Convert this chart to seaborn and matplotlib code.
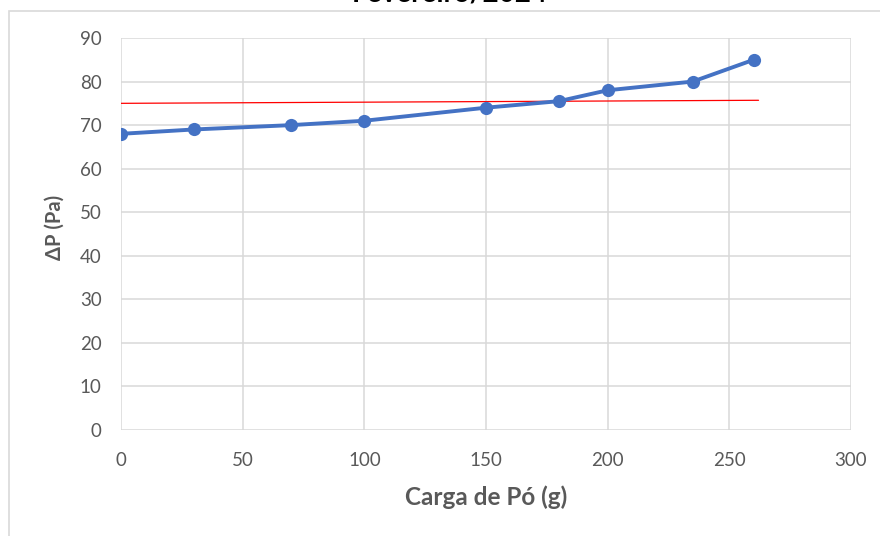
import matplotlib
matplotlib.use("Agg")
import matplotlib.pyplot as plt
import seaborn as sns
import pandas as pd
from matplotlib.patches import Rectangle

# ---- data ----
carga_g = [0, 30, 70, 100, 150, 180, 200, 235, 260]
delta_p = [68, 69, 70, 71, 74, 75.5, 78, 80, 85]
ref_x = [0, 262]
ref_y = [75.0, 75.7]
x_ticks = [0, 50, 100, 150, 200, 250, 300]
y_ticks = [0, 10, 20, 30, 40, 50, 60, 70, 80, 90]
title_text = "Fevereiro/2024"
x_label = "Carga de Pó (g)"
y_label = "ΔP (Pa)"

sns.set_theme(style="white")
plt.rcParams['font.family'] = ['Lato', 'DejaVu Sans']

df = pd.DataFrame({"x": carga_g, "y": delta_p})
df_ref = pd.DataFrame({"x": ref_x, "y": ref_y})

fig = plt.figure(figsize=(8.8, 5.36), dpi=100)
ax = fig.add_axes([121/880, 1 - 430/536, (851-121)/880, (430-38)/536])

grid_c = "#d9d9d9"
txt_c = "#595959"

# chart frame
fig.patches.append(Rectangle((9/880, -0.1), 1.2, 1 - 11/536 + 0.1,
                             transform=fig.transFigure, fill=False,
                             edgecolor=grid_c, linewidth=1.2, zorder=0))

sns.lineplot(data=df_ref, x="x", y="y", ax=ax, color="#ff0000",
             linewidth=0.9, zorder=3)
sns.lineplot(data=df, x="x", y="y", ax=ax, color="#4472c4", linewidth=2.8,
             marker="o", markersize=9.5, markeredgewidth=0, zorder=4)

ax.set_xlim(0, 300)
ax.set_ylim(0, 90)
ax.set_xticks(x_ticks)
ax.set_yticks(y_ticks)
ax.grid(True, color=grid_c, linewidth=1.1)
ax.set_axisbelow(True)
for s in ax.spines.values():
    s.set_visible(False)
ax.tick_params(axis="both", length=0, labelsize=13.5, colors=txt_c)
ax.tick_params(axis="y", pad=14)
ax.tick_params(axis="x", pad=16)
for lab in ax.get_xticklabels() + ax.get_yticklabels():
    lab.set_color(txt_c)

ax.set_xlabel(x_label, fontsize=17.5, fontweight="bold", color=txt_c, va="center")
ax.set_ylabel(y_label, fontsize=14.5, fontweight="bold", color=txt_c, va="center")
ax.xaxis.set_label_coords((486-121)/730, (430-497)/392)
ax.yaxis.set_label_coords((55-121)/730, (430-227)/392)

fig.text(450/880, 1 - 1.5/536, title_text, ha="center", va="baseline",
         fontsize=20, fontweight="bold", color="#000000")

fig.savefig("out.png", dpi=100)
